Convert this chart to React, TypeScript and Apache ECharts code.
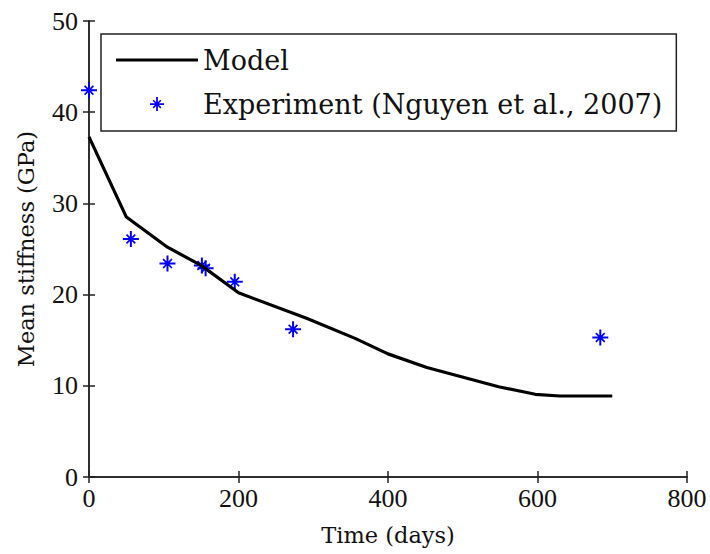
import React, { useEffect, useRef } from "react";
import * as echarts from "echarts";

const modelDays = [0, 50, 105, 150, 200, 291, 356, 400, 452, 548, 597, 630, 700];
const modelStiffness = [37.3, 28.5, 25.2, 23.2, 20.2, 17.4, 15.2, 13.5, 12.0, 9.9, 9.07, 8.88, 8.88];

const expDays = [0, 56, 105, 151, 156, 195, 273, 684];
const expStiffness = [42.4, 26.1, 23.4, 23.2, 22.9, 21.4, 16.2, 15.3];

const xTicks = { min: 0, max: 800, interval: 200 };
const yTicks = { min: 0, max: 50, interval: 10 };

const MODEL_NAME = "Model";
const EXP_NAME = "Experiment (Nguyen et al., 2007)";

const STAR =
  "path://M7,0L9,0L9,16L7,16Z" +
  "M0,7L16,7L16,9L0,9Z" +
  "M4.2,3L13,11.8L11.8,13L3,4.2Z" +
  "M11.8,3L13,4.2L4.2,13L3,11.8Z" +
  "M6,6L10,6L10,10L6,10Z";

const LEGEND_LINE = "path://M0,0L82,0L82,3L0,3Z";

const AXIS_COLOR = "#222";
const TEXT_COLOR = "#111";

export default function App() {
  const ref = useRef<HTMLDivElement>(null);

  useEffect(() => {
    if (!ref.current) return;
    const chart = echarts.init(ref.current, undefined, { renderer: "svg" });

    const tickLabel = {
      fontFamily: "Liberation Serif",
      fontSize: 26,
      color: TEXT_COLOR,
    };
    const nameStyle = {
      fontFamily: "DejaVu Serif",
      fontSize: 22.5,
      color: TEXT_COLOR,
    };
    const axisLine = { show: true, lineStyle: { color: AXIS_COLOR, width: 1.5 } };
    const axisTick = { show: true, inside: true, length: 6, lineStyle: { color: AXIS_COLOR, width: 1.5 } };

    chart.setOption({
      animation: false,
      backgroundColor: "#fff",
      grid: { left: 89, top: 21, right: 23, bottom: 77 },
      legend: {
        orient: "vertical",
        left: 101,
        top: 34,
        padding: [11, 14, 12, 15],
        itemWidth: 82,
        itemHeight: 14,
        itemGap: 14,
        borderColor: AXIS_COLOR,
        borderWidth: 1.5,
        backgroundColor: "#fff",
        selectedMode: false,
        symbolKeepAspect: true,
        textStyle: {
          fontFamily: "DejaVu Serif",
          fontSize: 27,
          color: TEXT_COLOR,
          lineHeight: 30,
        },
        data: [
          { name: MODEL_NAME, icon: LEGEND_LINE, itemStyle: { color: "#000", borderWidth: 0 } },
          {
            name: EXP_NAME,
            icon: STAR,
            itemStyle: { color: "#0000ff", borderWidth: 0 },
          },
        ],
      },
      xAxis: [
        {
          type: "value",
          ...xTicks,
          position: "bottom",
          name: "Time (days)",
          nameLocation: "middle",
          nameGap: 46,
          nameTextStyle: nameStyle,
          axisLine,
          axisTick,
          axisLabel: { ...tickLabel, margin: 8 },
          splitLine: { show: false },
        },
        {
          type: "value",
          ...xTicks,
          position: "top",
          axisLine,
          axisTick,
          axisLabel: { show: false },
          splitLine: { show: false },
        },
      ],
      yAxis: [
        {
          type: "value",
          ...yTicks,
          position: "left",
          name: "Mean stiffness (GPa)",
          nameLocation: "middle",
          nameGap: 52,
          nameTextStyle: nameStyle,
          axisLine,
          axisTick,
          axisLabel: { ...tickLabel, margin: 11 },
          splitLine: { show: false },
        },
        {
          type: "value",
          ...yTicks,
          position: "right",
          axisLine,
          axisTick,
          axisLabel: { show: false },
          splitLine: { show: false },
        },
      ],
      series: [
        {
          name: MODEL_NAME,
          type: "line",
          data: modelDays.map((d, i) => [d, modelStiffness[i]]),
          symbol: "none",
          lineStyle: { color: "#000", width: 3.2 },
          itemStyle: { color: "#000" },
          xAxisIndex: 0,
          yAxisIndex: 0,
        },
        {
          name: EXP_NAME,
          type: "scatter",
          data: expDays.map((d, i) => [d, expStiffness[i]]),
          symbol: STAR,
          symbolSize: 16,
          clip: false,
          itemStyle: { color: "#0000ff", opacity: 1 },
          xAxisIndex: 0,
          yAxisIndex: 0,
        },
      ],
    });

    return () => chart.dispose();
  }, []);

  return (
    <div
      ref={ref}
      style={{ position: "fixed", left: 0, top: 0, width: 710, height: 554, background: "#fff" }}
    />
  );
}
